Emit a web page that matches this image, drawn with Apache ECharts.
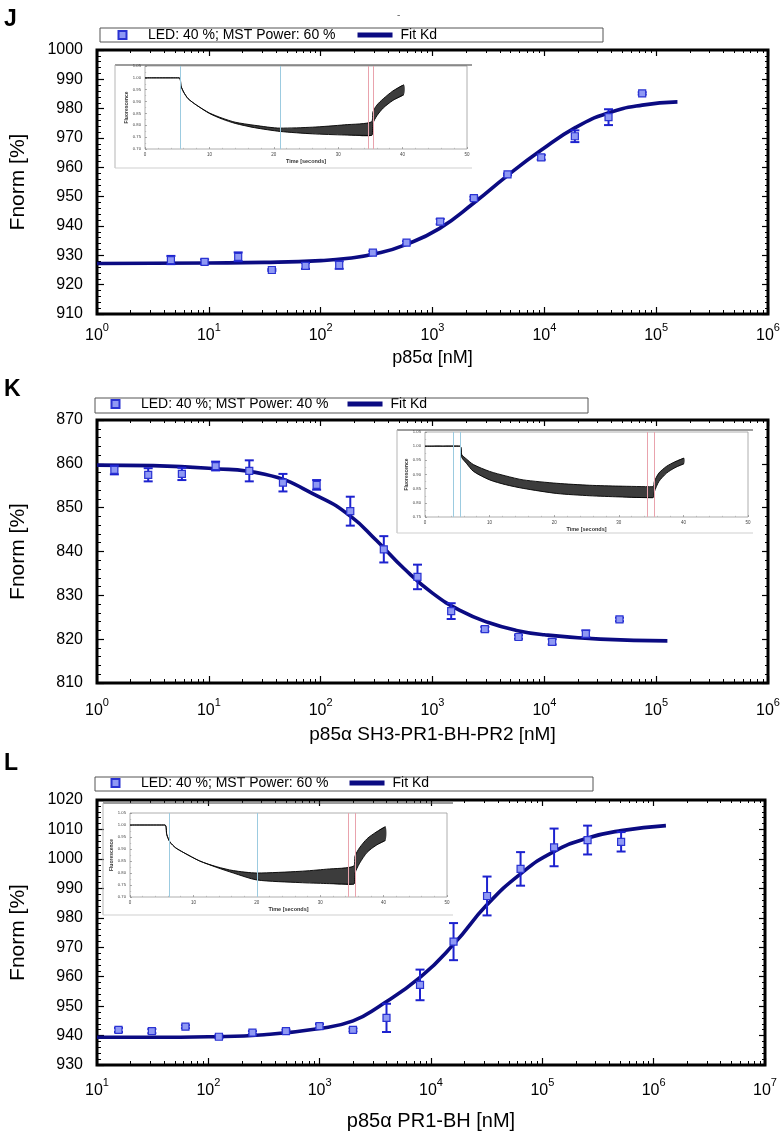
<!DOCTYPE html>
<html><head><meta charset="utf-8">
<script src="https://cdn.jsdelivr.net/npm/echarts@6/dist/echarts.min.js"></script>
<style>html,body{margin:0;padding:0;background:#fff}#c{width:784px;height:1132px}</style>
</head><body><div id="c"></div>
<script>
// ================= DATA =================
// Panel J
const jConc  = [4.58, 9.16, 18.3, 36.6, 73.2, 146.5, 293, 586, 1172, 2344, 4688, 9375, 18750, 37500, 75000];
const jFnorm = [928.4, 927.8, 929.5, 925.0, 926.4, 926.7, 930.9, 934.3, 941.5, 949.5, 957.6, 963.4, 970.6, 977.1, 985.2];
const jErr   = [1.4, 0.8, 1.5, 0.3, 1.0, 1.3, 0.5, 0.5, 0.9, 0.5, 0.3, 0.8, 2.0, 2.7, 0.4];
const jFitConc = [1, 10, 31.6, 100, 178, 316, 562, 1150, 2370, 4680, 9330, 19050, 37150, 75000, 155000];
const jFitY    = [927.2, 927.4, 927.6, 928.2, 929.0, 930.6, 933.5, 939.1, 948.0, 957.2, 965.8, 973.6, 978.5, 981.2, 982.3];
const jDecades = [1, 10, 100, 1000, 10000, 100000, 1000000];
// Panel K
const kConc  = [1.43, 2.87, 5.74, 11.5, 23, 46, 92, 184, 367, 734, 1469, 2938, 5875, 11750, 23500, 47000];
const kFnorm = [858.6, 857.5, 857.7, 859.5, 858.4, 855.7, 855.2, 849.2, 840.5, 834.2, 826.4, 822.3, 820.5, 819.4, 821.2, 824.5];
const kErr   = [1.0, 1.5, 1.4, 1.0, 2.4, 2.0, 1.1, 3.3, 3.0, 2.8, 1.8, 0.5, 0.4, 0.6, 0.8, 0.4];
const kFitConc = [1, 3.16, 10, 31.6, 100, 186, 316, 562, 1000, 1778, 3162, 5623, 10000, 31623, 126000];
const kFitY    = [859.7, 859.6, 859.0, 857.6, 852.3, 848.0, 842.5, 836.0, 830.5, 826.5, 823.8, 822.0, 821.0, 820.0, 819.6];
const kDecades = [1, 10, 100, 1000, 10000, 100000, 1000000];
// Panel L
const lConc  = [15.6, 31.1, 62.3, 124.5, 249, 498, 996, 1992, 3984, 7969, 15938, 31875, 63750, 127500, 255000, 510000];
const lFnorm = [941.9, 941.5, 943.0, 939.6, 941.0, 941.5, 943.2, 941.9, 946.0, 957.2, 971.9, 987.4, 996.6, 1003.9, 1006.4, 1005.8];
const lErr   = [0.7, 0.7, 0.5, 0.5, 0.5, 0.5, 0.7, 0.5, 4.8, 5.2, 6.3, 6.6, 5.7, 6.4, 4.9, 3.3];
const lFitConc = [10, 31.6, 100, 316, 1000, 1995, 3388, 8128, 16218, 31623, 64565, 125893, 251189, 512861, 1288250];
const lFitY    = [939.4, 939.4, 939.6, 940.3, 942.4, 945.0, 949.8, 960.0, 971.3, 984.3, 995.1, 1002.4, 1007.0, 1009.6, 1011.3];
const lDecades = [10, 100, 1000, 10000, 100000, 1000000, 10000000];
// minor tick multipliers on the log axes
const minorMult = [2, 3, 4, 5, 6, 7, 8, 9];

// Inset MST traces (time [s], fluorescence envelope of the trace bundle)
const jTime  = [0, 5.3, 5.6, 6.0, 6.7, 8.0, 10, 12, 14, 17, 21, 26, 31, 35.2, 35.4, 36.0, 37.0, 38.5, 40.2];
const jUpper = [1.00, 1.00, 0.965, 0.94, 0.912, 0.885, 0.852, 0.83, 0.813, 0.80, 0.788, 0.792, 0.802, 0.815, 0.857, 0.885, 0.912, 0.945, 0.971];
const jLower = [1.00, 1.00, 0.965, 0.94, 0.912, 0.885, 0.850, 0.826, 0.808, 0.79, 0.774, 0.764, 0.759, 0.757, 0.808, 0.840, 0.873, 0.905, 0.929];
const jBlue = [5.4, 21.0], jRed = [34.6, 35.5];
const kTime  = [0, 5.4, 5.7, 6.4, 7.5, 10, 12.5, 15.2, 20.4, 25.5, 30, 35.3, 35.5, 36.2, 37.4, 38.7, 40.1];
const kUpper = [1.00, 1.00, 0.97, 0.955, 0.935, 0.911, 0.895, 0.881, 0.869, 0.862, 0.859, 0.857, 0.875, 0.905, 0.929, 0.945, 0.958];
const kLower = [1.00, 1.00, 0.96, 0.94, 0.911, 0.881, 0.864, 0.851, 0.833, 0.825, 0.821, 0.818, 0.839, 0.875, 0.905, 0.924, 0.938];
const kBlue = [4.3, 5.4], kRed = [34.4, 35.5];
const lTime  = [0, 5.5, 5.8, 6.3, 7.2, 8.4, 11, 13.7, 16.3, 20, 26.8, 31, 35.3, 35.5, 36.2, 37.4, 38.8, 40.3];
const lUpper = [1.00, 1.00, 0.96, 0.929, 0.905, 0.886, 0.85, 0.826, 0.81, 0.80, 0.807, 0.816, 0.829, 0.871, 0.905, 0.943, 0.97, 0.993];
const lLower = [1.00, 1.00, 0.96, 0.929, 0.905, 0.886, 0.85, 0.823, 0.80, 0.771, 0.76, 0.756, 0.753, 0.80, 0.84, 0.886, 0.915, 0.936];
const lBlue = [6.2, 20.0], lRed = [34.5, 35.5];

const ledName60 = 'LED: 40 %; MST Power: 60 %';
const ledName40 = 'LED: 40 %; MST Power: 40 %';

// ================= CHART =================
const FONT = '"Liberation Sans", Arial, sans-serif';
const NAVY = '#0b0b82';
const BLUE = '#1d22cf';
const chart = echarts.init(document.getElementById('c'));
const option = {animation: false, textStyle: {fontFamily: FONT}, grid: [], xAxis: [], yAxis: [], series: [], legend: [], graphic: []};

function zip(a, b) { return a.map((v, i) => [v, b[i]]); }
function minorOf(decades) {
  const out = [];
  for (let i = 0; i < decades.length - 1; i++) minorMult.forEach(m => out.push(decades[i] * m));
  return out;
}

function addMain(p) {
  const gi = option.grid.length;
  option.grid.push({left: p.left, top: p.top, width: p.width, height: p.height, show: true,
    borderColor: '#000', borderWidth: 3, backgroundColor: '#fff'});
  const xi = option.xAxis.length;
  const minor = minorOf(p.decades);
  const base = {gridIndex: gi, type: 'log', logBase: 10, min: p.decades[0], max: p.decades[p.decades.length - 1],
    axisLine: {show: false}, splitLine: {show: false}};
  option.xAxis.push(Object.assign({}, base, {position: 'bottom',
    axisTick: {inside: true, length: 7, customValues: p.decades, lineStyle: {color: '#000', width: 1.2}},
    axisLabel: {customValues: p.decades, margin: p.labelMargin, color: '#000',
      formatter: v => '{b|10}{s|' + Math.round(Math.log10(v)) + '}',
      rich: {b: {fontSize: 16, fontFamily: FONT, color: '#000', verticalAlign: 'bottom', lineHeight: 22},
             s: {fontSize: 11, fontFamily: FONT, color: '#000', verticalAlign: 'top', lineHeight: 22}}},
    name: p.xTitle, nameLocation: 'middle', nameGap: p.nameGap,
    nameTextStyle: {fontSize: p.titleSize, fontFamily: FONT, color: '#000'}}));
  option.xAxis.push(Object.assign({}, base, {position: 'bottom', axisLabel: {show: false},
    axisTick: {inside: true, length: 4, customValues: minor, lineStyle: {color: '#000', width: 1}}}));
  option.xAxis.push(Object.assign({}, base, {position: 'top', axisLabel: {show: false},
    axisTick: {inside: true, length: 6, customValues: p.decades, lineStyle: {color: '#000', width: 1.2}}}));
  option.xAxis.push(Object.assign({}, base, {position: 'top', axisLabel: {show: false},
    axisTick: {inside: true, length: 3, customValues: minor, lineStyle: {color: '#000', width: 1}}}));
  const yi = option.yAxis.length;
  const ybase = {gridIndex: gi, type: 'value', min: p.yMin, max: p.yMax, interval: 10,
    axisLine: {show: false, onZero: false}, splitLine: {show: false}};
  option.yAxis.push(Object.assign({}, ybase, {position: 'left',
    axisTick: {inside: true, length: 7, lineStyle: {color: '#000', width: 1.2}},
    minorTick: {show: true, splitNumber: 5, length: 4, lineStyle: {color: '#000', width: 1}},
    axisLabel: {fontSize: 16, color: '#000', margin: 14, fontFamily: FONT, formatter: v => String(v)},
    name: 'Fnorm [%]', nameLocation: 'middle', nameGap: 68, nameRotate: 90,
    nameTextStyle: {fontSize: 21, fontFamily: FONT, color: '#000'}}));
  option.yAxis.push(Object.assign({}, ybase, {position: 'right', axisLabel: {show: false},
    axisTick: {inside: true, length: 6, lineStyle: {color: '#000', width: 1.2}},
    minorTick: {show: true, splitNumber: 5, length: 3, lineStyle: {color: '#000', width: 1}}}));

  option.series.push({type: 'line', name: 'Fit Kd', xAxisIndex: xi, yAxisIndex: yi, data: zip(p.fitX, p.fitY),
    smooth: 0.5, showSymbol: false, color: NAVY,
    lineStyle: {color: NAVY, width: 3.6}, itemStyle: {color: NAVY}, z: 3, silent: true});
  option.series.push({type: 'custom', name: 'err' + gi, xAxisIndex: xi, yAxisIndex: yi,
    data: p.x.map((v, i) => [v, p.y[i], p.err[i]]), encode: {x: 0, y: 1}, z: 4, silent: true,
    renderItem: (params, api) => {
      const x = api.value(0), y = api.value(1), e = api.value(2);
      const t = api.coord([x, y + e]), b = api.coord([x, y - e]);
      const hw = 4.5, st = {stroke: BLUE, lineWidth: 2};
      return {type: 'group', children: [
        {type: 'line', shape: {x1: t[0], y1: t[1], x2: b[0], y2: b[1]}, style: st},
        {type: 'line', shape: {x1: t[0] - hw, y1: t[1], x2: t[0] + hw, y2: t[1]}, style: st},
        {type: 'line', shape: {x1: b[0] - hw, y1: b[1], x2: b[0] + hw, y2: b[1]}, style: st}]};
    }});
  option.series.push({type: 'scatter', name: p.ptName, xAxisIndex: xi, yAxisIndex: yi, data: zip(p.x, p.y),
    symbol: 'rect', symbolSize: 7, z: 5,
    itemStyle: {color: '#8f99f4', borderColor: '#2a33d2', borderWidth: 1.2, opacity: 1}});

  option.legend.push({left: p.legLeft, top: p.legTop, orient: 'horizontal', itemWidth: 35, itemHeight: 8,
    itemGap: p.legGap, padding: 0, selectedMode: false,
    textStyle: {fontSize: 14, fontFamily: FONT, color: '#000', padding: [0, 0, 0, 3]},
    data: [{name: p.ptName, icon: 'path://M0,0H10V10H0Z'}, {name: 'Fit Kd', icon: 'path://M0,0H35V5H0Z'}]});
  option.graphic.push({type: 'rect', shape: {x: p.legBox[0], y: p.legBox[1], width: p.legBox[2], height: p.legBox[3]},
    style: {fill: 'none', stroke: '#555', lineWidth: 1}, z: 10, silent: true});
  option.graphic.push({type: 'text', x: p.letter[0], y: p.letter[1],
    style: {text: p.letter[2], font: 'bold 23px ' + FONT, fill: '#000', textVerticalAlign: 'middle'}, z: 10});
}

function addInset(p) {
  const gi = option.grid.length;
  option.grid.push({left: p.left, top: p.top, width: p.width, height: p.height, show: true,
    borderColor: '#9a9a9a', borderWidth: 0.8, backgroundColor: 'rgba(0,0,0,0)'});
  const xi = option.xAxis.length, yi = option.yAxis.length;
  option.xAxis.push({gridIndex: gi, type: 'value', min: 0, max: 50, interval: 10,
    axisLine: {show: false, onZero: false}, splitLine: {show: false},
    axisTick: {inside: true, length: 2, lineStyle: {color: '#777', width: 0.6}},
    minorTick: {show: true, splitNumber: 5, length: 1.2, lineStyle: {color: '#999', width: 0.5}},
    axisLabel: {fontSize: 4.5, color: '#444', margin: 3},
    name: 'Time [seconds]', nameLocation: 'middle', nameGap: 9,
    nameTextStyle: {fontSize: 5.5, fontWeight: 'bold', color: '#333'}});
  option.yAxis.push({gridIndex: gi, type: 'value', min: p.yMin, max: 1.05, interval: 0.05,
    axisLine: {show: false, onZero: false}, splitLine: {show: false},
    axisTick: {inside: true, length: 2, lineStyle: {color: '#777', width: 0.6}},
    minorTick: {show: true, splitNumber: 2, length: 1.2, lineStyle: {color: '#999', width: 0.5}},
    axisLabel: {fontSize: 4.2, color: '#444', margin: 4, formatter: v => v.toFixed(2)},
    name: 'Fluorescence', nameLocation: 'middle', nameGap: 15, nameRotate: 90,
    nameTextStyle: {fontSize: 5, fontWeight: 'bold', color: '#333'}});
  const t = p.t, up = p.up, lo = p.lo;
  option.series.push({type: 'custom', xAxisIndex: xi, yAxisIndex: yi, data: [[t[0], up[0]]], encode: {x: 0, y: 1},
    silent: true, z: 2,
    renderItem: (params, api) => {
      const pts = [];
      for (let i = 0; i < t.length; i++) pts.push(api.coord([t[i], up[i]]));
      for (let i = t.length - 1; i >= 0; i--) pts.push(api.coord([t[i], lo[i]]));
      return {type: 'polygon', shape: {points: pts, smooth: 0.25}, style: {fill: '#3c3c3c'}};
    }});
  const ml = {symbol: 'none', silent: true, label: {show: false}, animation: false,
    data: p.blue.map(v => ({xAxis: v, lineStyle: {color: '#9ccbe0', width: 1, type: 'solid'}}))
      .concat(p.red.map(v => ({xAxis: v, lineStyle: {color: '#e9a3ad', width: 1, type: 'solid'}})))};
  option.series.push({type: 'line', xAxisIndex: xi, yAxisIndex: yi, data: zip(t, up), smooth: 0.25,
    showSymbol: false, silent: true, lineStyle: {color: '#000', width: 0.9}, z: 3, markLine: ml});
  option.series.push({type: 'line', xAxisIndex: xi, yAxisIndex: yi, data: zip(t, lo), smooth: 0.25,
    showSymbol: false, silent: true, lineStyle: {color: '#000', width: 0.9}, z: 3});
  const f = p.frame; // x0, y0, x1, y1
  option.graphic.push({type: 'line', shape: {x1: f[0], y1: f[1], x2: f[2], y2: f[1]}, style: {stroke: '#3a3a3a', lineWidth: 1.2}, z: 10, silent: true});
  option.graphic.push({type: 'line', shape: {x1: f[0], y1: f[1], x2: f[0], y2: f[3]}, style: {stroke: '#b5b5b5', lineWidth: 1}, z: 10, silent: true});
  option.graphic.push({type: 'line', shape: {x1: f[0], y1: f[3], x2: f[2], y2: f[3]}, style: {stroke: '#cfcfcf', lineWidth: 1}, z: 10, silent: true});
}

addMain({left: 97, top: 50, width: 671, height: 264, decades: jDecades, yMin: 910, yMax: 1000,
  x: jConc, y: jFnorm, err: jErr, fitX: jFitConc, fitY: jFitY, ptName: ledName60,
  xTitle: 'p85α [nM]', nameGap: 35, titleSize: 18, labelMargin: 8,
  legLeft: 117.5, legTop: 28, legGap: 22, legBox: [100, 28, 503, 14], letter: [4, 20, 'J']});
addInset({left: 145, top: 66, width: 322, height: 83, yMin: 0.70, t: jTime, up: jUpper, lo: jLower,
  blue: jBlue, red: jRed, frame: [115, 65, 472, 168]});

addMain({left: 97, top: 420, width: 671, height: 263, decades: kDecades, yMin: 810, yMax: 870,
  x: kConc, y: kFnorm, err: kErr, fitX: kFitConc, fitY: kFitY, ptName: ledName40,
  xTitle: 'p85α SH3-PR1-BH-PR2 [nM]', nameGap: 42, titleSize: 19, labelMargin: 14,
  legLeft: 110.5, legTop: 397, legGap: 19, legBox: [95, 398, 493, 15], letter: [4, 390, 'K']});
addInset({left: 425, top: 432, width: 323, height: 85, yMin: 0.75, t: kTime, up: kUpper, lo: kLower,
  blue: kBlue, red: kRed, frame: [397, 430, 753, 533]});

addMain({left: 95, top: 800, width: 670, height: 265, decades: lDecades, yMin: 930, yMax: 1020,
  x: lConc, y: lFnorm, err: lErr, fitX: lFitConc, fitY: lFitY, ptName: ledName60,
  xTitle: 'p85α PR1-BH [nM]', nameGap: 46, titleSize: 20, labelMargin: 12,
  legLeft: 110.5, legTop: 776, legGap: 21, legBox: [95, 777, 498, 14], letter: [4, 764, 'L']});
addInset({left: 130, top: 813, width: 317, height: 84, yMin: 0.70, t: lTime, up: lUpper, lo: lLower,
  blue: lBlue, red: lRed, frame: [103, 803, 453, 915]});

option.graphic.push({type: 'text', x: 397, y: 10, style: {text: '-', font: '10px ' + FONT, fill: '#666'}, z: 10});

chart.setOption(option);
</script></body></html>
